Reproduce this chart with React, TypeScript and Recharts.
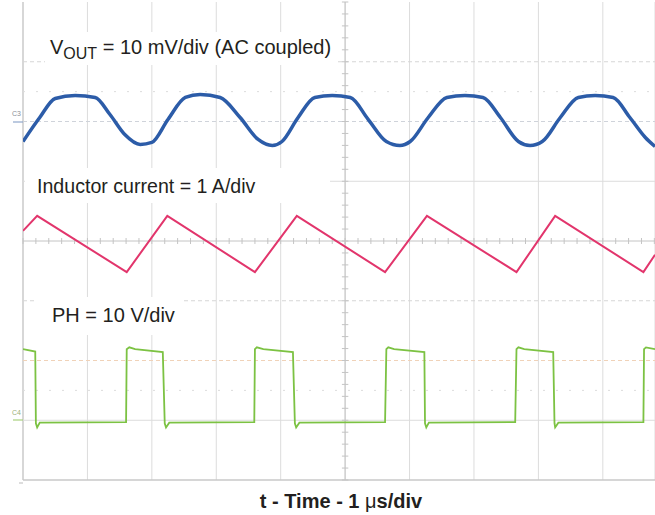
import React from 'react';
import { LineChart, Line, XAxis, YAxis, CartesianGrid, ReferenceLine } from 'recharts';

// time in microseconds (1 us/div), vertical in screen divisions
const timeTicks = [0, 1, 2, 3, 4, 5, 6, 7, 8, 9];
const timeDomainMax = 9.81;
const divDomain = [0, 8];

// channel reference levels (in divisions)
const C3_LEVEL = 6; // VOUT marker
const IL_LEVEL = 4; // inductor current marker
const C4_LEVEL = 1; // PH marker

// VOUT, AC coupled, mV (10 mV/div)
const voutData = [
  { t: 0, v: -3.35 }, { t: 0.26, v: 0.67 }, { t: 0.5, v: 3.85 }, { t: 0.81, v: 4.35 },
  { t: 1.12, v: 4.02 }, { t: 1.35, v: 1.17 }, { t: 1.58, v: -2.18 }, { t: 1.82, v: -3.85 },
  { t: 2.0, v: -3.51 }, { t: 2.25, v: 0.33 }, { t: 2.52, v: 4.02 }, { t: 2.75, v: 4.52 },
  { t: 3.06, v: 4.02 }, { t: 3.37, v: 0.67 }, { t: 3.65, v: -3.01 }, { t: 3.87, v: -4.02 },
  { t: 4.02, v: -3.35 }, { t: 4.27, v: 0.67 }, { t: 4.53, v: 4.02 }, { t: 4.8, v: 4.35 },
  { t: 5.08, v: 4.02 }, { t: 5.36, v: 0.33 }, { t: 5.64, v: -3.35 }, { t: 5.85, v: -4.02 },
  { t: 6.01, v: -3.35 }, { t: 6.29, v: 0.67 }, { t: 6.58, v: 4.02 }, { t: 6.86, v: 4.35 },
  { t: 7.14, v: 4.02 }, { t: 7.41, v: 0.67 }, { t: 7.69, v: -3.35 }, { t: 7.87, v: -4.02 },
  { t: 8.06, v: -3.35 }, { t: 8.34, v: 0.67 }, { t: 8.62, v: 4.02 }, { t: 8.88, v: 4.35 },
  { t: 9.16, v: 4.02 }, { t: 9.42, v: 0.67 }, { t: 9.66, v: -2.68 }, { t: 9.81, v: -4.18 },
];

// Inductor current, A (1 A/div)
const ilData = [
  { t: 0, v: 0.17 }, { t: 0.22, v: 0.42 }, { t: 1.61, v: -0.52 }, { t: 2.24, v: 0.42 },
  { t: 3.6, v: -0.52 }, { t: 4.25, v: 0.42 }, { t: 5.62, v: -0.52 }, { t: 6.27, v: 0.42 },
  { t: 7.66, v: -0.52 }, { t: 8.26, v: 0.42 }, { t: 9.63, v: -0.52 }, { t: 9.81, v: -0.23 },
];

// PH node, V (10 V/div)
const phData = [
  { t: 0, v: 11.9 }, { t: 0.19, v: 11.5 }, { t: 0.2, v: -0.5 }, { t: 0.22, v: -1.2 }, { t: 0.26, v: -0.4 },
  { t: 1.6, v: -0.3 }, { t: 1.61, v: 11.9 }, { t: 1.65, v: 12.2 }, { t: 1.74, v: 11.9 }, { t: 2.17, v: 11.4 },
  { t: 2.2, v: -0.5 }, { t: 2.22, v: -1.2 }, { t: 2.27, v: -0.4 },
  { t: 3.59, v: -0.3 }, { t: 3.6, v: 11.9 }, { t: 3.63, v: 12.2 }, { t: 3.73, v: 11.9 }, { t: 4.19, v: 11.4 },
  { t: 4.22, v: -0.5 }, { t: 4.24, v: -1.2 }, { t: 4.29, v: -0.4 },
  { t: 5.62, v: -0.3 }, { t: 5.64, v: 11.9 }, { t: 5.67, v: 12.2 }, { t: 5.76, v: 11.9 }, { t: 6.23, v: 11.4 },
  { t: 6.24, v: -0.5 }, { t: 6.26, v: -1.2 }, { t: 6.3, v: -0.4 },
  { t: 7.64, v: -0.3 }, { t: 7.66, v: 11.9 }, { t: 7.69, v: 12.2 }, { t: 7.78, v: 11.9 }, { t: 8.23, v: 11.4 },
  { t: 8.25, v: -0.5 }, { t: 8.26, v: -1.2 }, { t: 8.31, v: -0.4 },
  { t: 9.63, v: -0.3 }, { t: 9.64, v: 11.9 }, { t: 9.67, v: 12.2 }, { t: 9.81, v: 11.9 },
];

// labels
const voutLabelMain = 'V';
const voutLabelSub = 'OUT';
const voutLabelRest = ' = 10 mV/div (AC coupled)';
const ilLabel = 'Inductor current = 1 A/div';
const phLabel = 'PH = 10 V/div';
const xTitleA = 't - Time - 1 ';
const xTitleMu = 'μ';
const xTitleB = 's/div';

const minorTimeTicks: number[] = [];
for (let k = 0; k <= 49; k++) minorTimeTicks.push(k * 0.2);
const minorDivTicks: number[] = [];
for (let k = 0; k <= 40; k++) minorDivTicks.push(k * 0.2);

const W = 655;
const H = 515;
const FONT = '"Liberation Sans", Arial, Helvetica, sans-serif';

export default function App() {
  return (
    <div style={{ position: 'absolute', left: 0, top: 0, width: W, height: H, background: '#fff' }}>
      <LineChart width={W} height={H} margin={{ top: 2, right: 0, left: 23, bottom: 35 }}>
        <CartesianGrid vertical horizontal={false} stroke="#dcdcdc" strokeWidth={1} />
        <XAxis
          type="number"
          dataKey="t"
          domain={[0, timeDomainMax]}
          ticks={timeTicks}
          allowDataOverflow
          hide
        />
        <YAxis type="number" domain={divDomain} allowDataOverflow hide width={0} />

        <ReferenceLine x={0} stroke="#c8c8c8" strokeWidth={1.2} />
        <ReferenceLine y={0} stroke="#c8c8c8" strokeWidth={1.5} />
        <ReferenceLine y={7} stroke="#d6d6d6" strokeDasharray="4 3" />
        <ReferenceLine y={6.5} stroke="#dcdcdc" strokeDasharray="2 11" />
        <ReferenceLine y={C3_LEVEL} stroke="#cfd3da" strokeDasharray="4 3" />
        <ReferenceLine y={5} stroke="#dcdcdc" />
        <ReferenceLine y={IL_LEVEL} stroke="#c4c4c4" />
        <ReferenceLine y={3} stroke="#d6d6d6" strokeDasharray="4 3" />
        <ReferenceLine y={2} stroke="#f0d2b8" strokeDasharray="4 3" />
        <ReferenceLine y={1.5} stroke="#dcdcdc" strokeDasharray="2 11" />
        <ReferenceLine y={C4_LEVEL} stroke="#dcdcdc" />
        <ReferenceLine x={5} stroke="#c4c4c4" />

        {minorTimeTicks.map((t) => (
          <ReferenceLine
            key={'mt' + t}
            segment={[{ x: t, y: IL_LEVEL - 0.05 }, { x: t, y: IL_LEVEL + 0.05 }]}
            stroke="#c4c4c4"
          />
        ))}
        {minorDivTicks.map((d) => (
          <ReferenceLine
            key={'md' + d}
            segment={[{ x: 4.95, y: d }, { x: 5.05, y: d }]}
            stroke="#c4c4c4"
          />
        ))}

        <Line
          data={voutData}
          dataKey={(d: any) => C3_LEVEL + d.v / 10}
          type="monotone"
          stroke="#2c5ca8"
          strokeWidth={3.5}
          dot={false}
          isAnimationActive={false}
        />
        <Line
          data={ilData}
          dataKey={(d: any) => IL_LEVEL + d.v}
          type="linear"
          stroke="#e2356c"
          strokeWidth={2}
          dot={false}
          isAnimationActive={false}
        />
        <Line
          data={phData}
          dataKey={(d: any) => C4_LEVEL + d.v / 10}
          type="linear"
          stroke="#7cc243"
          strokeWidth={1.8}
          dot={false}
          isAnimationActive={false}
        />
      </LineChart>

      <svg
        width={W}
        height={H}
        style={{ position: 'absolute', left: 0, top: 0, pointerEvents: 'none' }}
        fontFamily={FONT}
      >
        <rect x={45} y={32} width={292} height={33} fill="#fff" />
        <rect x={25} y={168} width={305} height={35} fill="#fff" />
        <rect x={37} y={297} width={145} height={38} fill="#fff" />

        <text x={50} y={54} fontSize={20} fill="#231f20">
          {voutLabelMain}
          <tspan fontSize={16} dy={5}>{voutLabelSub}</tspan>
          <tspan dy={-5}>{voutLabelRest}</tspan>
        </text>
        <text x={37} y={193} fontSize={19.6} fill="#231f20">{ilLabel}</text>
        <text x={52} y={322} fontSize={20} fill="#231f20">{phLabel}</text>

        <text x={12} y={116} fontSize={7} fill="#8a8f99">C3</text>
        <line x1={13} y1={122} x2={23} y2={122} stroke="#8fa6cc" strokeWidth={1.2} />
        <text x={12} y={415} fontSize={7} fill="#9bb27a">C4</text>
        <line x1={13} y1={420} x2={23} y2={420} stroke="#a9d07e" strokeWidth={1.2} />
        <line x1={19} y1={483} x2={23} y2={483} stroke="#bbbbbb" strokeWidth={1} />

        <text x={341} y={508} fontSize={20} fontWeight="bold" textAnchor="middle" fill="#231f20">
          {xTitleA}
          <tspan fontWeight="normal">{xTitleMu}</tspan>
          {xTitleB}
        </text>
      </svg>
    </div>
  );
}
